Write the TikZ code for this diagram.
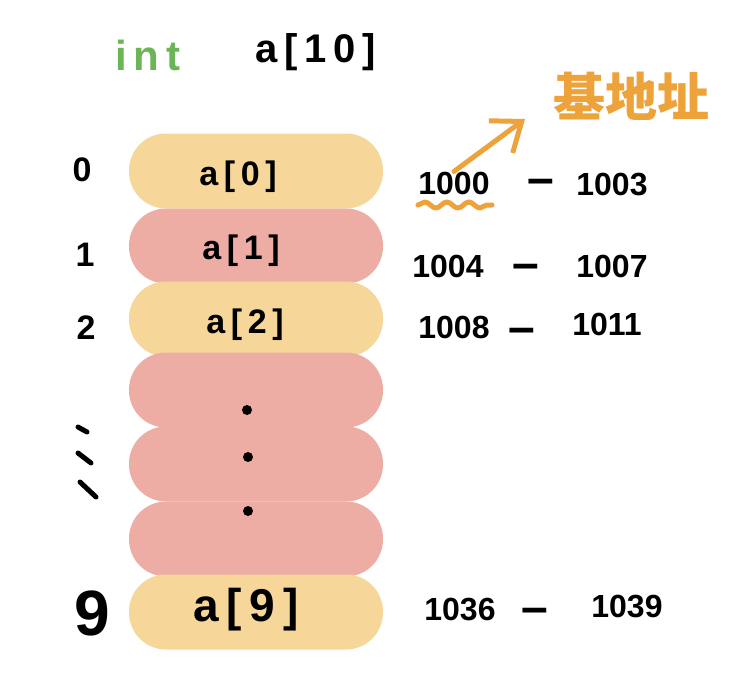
\documentclass[tikz,border=0pt]{standalone}
\usepackage{fontspec}
\setmainfont{Liberation Sans}
\newfontfamily\cjk{Noto Sans CJK SC}
\usetikzlibrary{arrows.meta,decorations.pathmorphing}
\definecolor{pillY}{HTML}{F6D699}
\definecolor{pillP}{HTML}{EDADA5}
\definecolor{intG}{HTML}{6CB556}
\definecolor{noteO}{HTML}{EDA23A}
\tikzset{
  pill/.style={minimum width=254pt, minimum height=75pt, rounded corners=37pt, inner sep=0pt},
  ypill/.style={pill, fill=pillY},
  ppill/.style={pill, fill=pillP},
  cell/.style={font=\bfseries\fontsize{34}{40}\selectfont, inner sep=0pt},
  addr/.style={font=\bfseries\fontsize{32}{38}\selectfont, inner sep=0pt},
  dashtxt/.style={font=\bfseries\fontsize{48}{54}\selectfont, inner sep=0pt},
  idx/.style={font=\bfseries\fontsize{34}{40}\selectfont, inner sep=0pt},
  edot/.style={fill=black, circle, minimum size=10pt, inner sep=0pt},
  estroke/.style={line width=5pt, line cap=round},
  note/.style={noteO, line width=5pt, line cap=round, line join=round}
}
\begin{document}
\begin{tikzpicture}[x=1pt,y=-1pt]
\fill[white] (0,0) rectangle (732,697);
\useasboundingbox (0,0) rectangle (732,697);
% title
\node[inner sep=0pt, intG, font=\bfseries\fontsize{42}{48}\selectfont] (int) at (148,55) {i\,n\,t};
\node[inner sep=0pt, font=\bfseries\fontsize{40}{46}\selectfont] (decl) at (316,52) {a\,[\,1\,0\,]};
% pills
\node[ypill] (p0) at (256,171) {};
\node[ppill] (p1) at (256,246) {};
\node[ypill] (p2) at (256,319) {};
\node[ppill] (p3) at (256,390) {};
\node[ppill] (p4) at (256,464) {};
\node[ppill] (p5) at (256,539) {};
\node[ypill] (p9) at (256,612) {};
% cell texts
\node[cell] (c0) at (238,177) {a\,[\,0\,]};
\node[cell] (c1) at (241,251) {a\,[\,1\,]};
\node[cell] (c2) at (245,325) {a\,[\,2\,]};
\node[edot] (d1) at (247,410) {};
\node[edot] (d2) at (248,457) {};
\node[edot] (d3) at (248,511) {};
\node[cell, font=\bfseries\fontsize{46}{52}\selectfont] (c9) at (246,610) {a\,[\,9\,]};
% indices
\node[idx] (i0) at (82,170) {0};
\node[idx] (i1) at (85,255) {1};
\node[idx] (i2) at (86,328) {2};
\draw[estroke] (78,427) -- (87,432);
\draw[estroke] (78,453) -- (91,463);
\draw[estroke] (80,482) -- (96,497);
\node[idx, font=\bfseries\fontsize{64}{70}\selectfont] (i9) at (92,613) {9};
% addresses
\node[addr] (s0) at (454,183) {1000};
\node[dashtxt] (m0) at (541,187) {–};
\node[addr] (e0) at (612,185) {1003};
\node[addr] (s1) at (448,266) {1004};
\node[dashtxt] (m1) at (526,272) {–};
\node[addr] (e1) at (612,266) {1007};
\node[addr] (s2) at (454,327) {1008};
\node[dashtxt] (m2) at (522,336) {–};
\node[addr] (e2) at (607,324) {1011};
\node[addr] (s9) at (460,609) {1036};
\node[dashtxt] (m9) at (535,616) {–};
\node[addr] (e9) at (627,607) {1039};
% base address note
\node[noteO, inner sep=0pt, font=\cjk\bfseries\fontsize{52}{58}\selectfont] (base) at (631,96) {基地址};
\coordinate (tip) at (525,119);
\draw[note, -{Straight Barb[length=26pt,width=40pt]}] (s0.north) -- (tip);
\draw[note, decorate, decoration={snake, amplitude=3pt, segment length=22pt}] (418,205) -- (492,205);
\end{tikzpicture}
\end{document}
